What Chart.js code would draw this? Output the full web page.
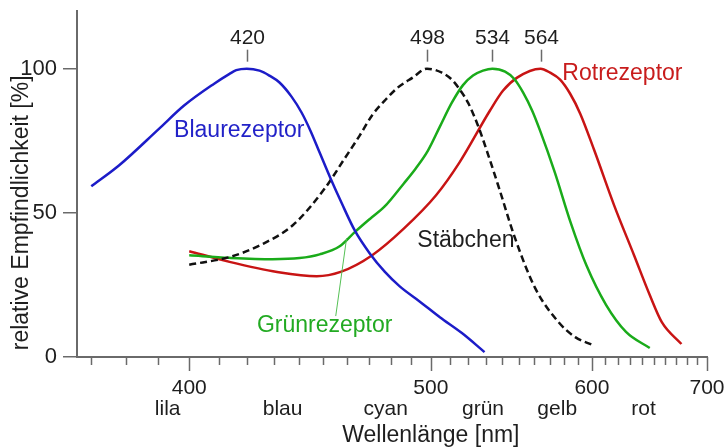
<!DOCTYPE html>
<html>
<head>
<meta charset="utf-8">
<script src="https://cdn.jsdelivr.net/npm/chart.js@4.4.1/dist/chart.umd.min.js"></script>
<style>
html,body{margin:0;padding:0;background:#fff;}
#wrap{width:728px;height:448px;position:relative;}
</style>
</head>
<body>
<div id="wrap"><canvas id="c" width="728" height="448"></canvas></div>
<script>
// ---- data (wavelength in nm, relative sensitivity in %) ----
const blueNm  = [370, 378, 390.3, 398.3, 408.3, 413.8, 416.2, 420, 424.7, 428.4, 432.3, 437, 441, 444.6, 448.4, 453, 457.8, 463.5, 470.2, 477.2, 484.4, 494.4, 504.7, 516.6, 529.4];
const blueVal = [59.2, 66.4, 79.2, 87.2, 94.7, 98.2, 99.5, 100, 99.3, 97.6, 95.2, 90.3, 84.8, 78.5, 70.9, 61.9, 53.3, 43.9, 36, 29.6, 24.5, 19.2, 13.8, 8.3, 1.7];

const greenNm  = [400, 413.7, 429.6, 440.2, 448.4, 456.9, 463.5, 470.2, 477.2, 486.4, 492.3, 498.5, 504.7, 511.1, 517.2, 522.8, 528.5, 534, 541.6, 547.1, 552.8, 558.5, 563.7, 573.5, 584.5, 595.9, 610.8, 626.5, 646.4];
const greenVal = [35.3, 34.4, 33.9, 34.3, 35.6, 38.4, 43.3, 47.8, 52.2, 60.2, 65.4, 71.6, 79.9, 88.2, 94.3, 97.6, 99.3, 100, 99, 96.5, 91.7, 85.5, 78.5, 64.1, 46.7, 31.8, 18, 8.7, 3.1];

const redNm  = [400, 413.8, 431.4, 447.2, 457.3, 471.4, 486.5, 502.6, 515.3, 532.6, 540.4, 549, 564, 570.4, 577.2, 584.2, 591.4, 601.8, 617, 633.1, 646.4, 657, 675];
const redVal = [36.7, 33, 29.5, 28, 29.5, 35.3, 44.6, 56, 67.5, 85.5, 92.4, 96.9, 100, 98.6, 96.2, 91.3, 84.4, 71.6, 52.6, 35.3, 21.5, 12.1, 4.5];

const rodNm  = [400, 414, 425, 437.5, 450.5, 459.1, 465.7, 471.6, 477.2, 483.4, 490.8, 498, 505.8, 511.1, 515.5, 520, 525.6, 532.6, 538, 547.7, 560.5, 576.1, 587.8, 600.2];
const rodVal = [32, 34.7, 38.8, 45.7, 58.4, 68.9, 76.8, 84.1, 88.9, 93.4, 96.9, 100, 98.6, 96.2, 92.7, 88.2, 80.3, 68.2, 58.5, 41.2, 23.9, 12.1, 6.9, 4.2];

const peakNm = [420, 498, 534, 564];
const peakLabels = ['420', '498', '534', '564'];

const xTickNm = [400, 500, 600, 700];
const xTickLabels = ['400', '500', '600', '700'];
const colorNames = ['lila', 'blau', 'cyan', 'grün', 'gelb', 'rot'];
const colorNameNm = [393, 433.5, 477.7, 528.5, 575.2, 641];
const yTicks = [0, 50, 100];

const xTitle = 'Wellenlänge [nm]';
const xTitleNm = 500;
const yTitle = 'relative Empfindlichkeit [%]';
const yTitleVal = 50;

const curveLabels = ['Blaurezeptor', 'Rotrezeptor', 'Stäbchen', 'Grünrezeptor'];
const curveLabelNm = [417.3, 623.6, 518.8, 450.5];
const curveLabelVal = [78.5, 98.3, 40.5, 10.7];

// ---- helpers ----
const toWn = nm => 1e7 / nm;          // axis uses wavenumber (reciprocal wavelength)
const FONT = '"Liberation Sans", Arial, Helvetica, sans-serif';
const AXIS_COLOR = '#6a6a6a';
const TEXT_COLOR = '#1e1e1e';
const BLUE = '#1c1cc8', GREEN = '#1aab1a', RED = '#c81414', BLACK = '#111111';
const LABEL_COLORS = ['#2222c8', '#c81c1c', '#1e1e1e', '#22aa22'];

const minorNm = [];
for (let n = 370; n <= 700; n += 10) minorNm.push(n);

const xLabelTicks = [];
xTickNm.forEach((n, i) => xLabelTicks.push({nm: n, label: [xTickLabels[i]]}));
colorNameNm.forEach((n, i) => xLabelTicks.push({nm: n, label: ['', colorNames[i]]}));
xLabelTicks.sort((a, b) => a.nm - b.nm);

function series(nm, val) { return nm.map((n, i) => ({x: toWn(n), y: val[i]})); }

const decor = {
  id: 'decor',
  afterDraw(chart) {
    const {ctx, scales: {x, y}, chartArea} = chart;
    ctx.save();
    // x-axis tick marks (minor every 10 nm, major every 100 nm)
    ctx.strokeStyle = AXIS_COLOR;
    ctx.lineWidth = 1.5;
    minorNm.forEach(n => {
      const px = Math.round(x.getPixelForValue(toWn(n))) + 0.5;
      const len = (n % 100 === 0) ? 14 : 8;
      ctx.beginPath();
      ctx.moveTo(px, chartArea.bottom);
      ctx.lineTo(px, chartArea.bottom + len);
      ctx.stroke();
    });
    // peak markers
    ctx.font = '21px ' + FONT;
    ctx.fillStyle = TEXT_COLOR;
    ctx.textAlign = 'center';
    ctx.textBaseline = 'middle';
    const ptop = y.getPixelForValue(100);
    peakNm.forEach((n, i) => {
      const px = Math.round(x.getPixelForValue(toWn(n))) + 0.5;
      ctx.beginPath();
      ctx.moveTo(px, ptop - 19);
      ctx.lineTo(px, ptop - 7);
      ctx.stroke();
      ctx.fillText(peakLabels[i], px, ptop - 30);
    });
    // axis titles
    ctx.font = '23px ' + FONT;
    ctx.fillText(xTitle, x.getPixelForValue(toWn(xTitleNm)), chartArea.bottom + 79);
    ctx.save();
    ctx.translate(22, y.getPixelForValue(yTitleVal));
    ctx.rotate(-Math.PI / 2);
    ctx.font = '23px ' + FONT;
    ctx.fillText(yTitle, 0, 0);
    ctx.restore();
    // leader line for Grünrezeptor
    ctx.strokeStyle = '#55c055';
    ctx.lineWidth = 1;
    ctx.beginPath();
    ctx.moveTo(x.getPixelForValue(toWn(455.2)), y.getPixelForValue(14.2));
    ctx.lineTo(x.getPixelForValue(toWn(459.9)), y.getPixelForValue(41.2));
    ctx.stroke();
    // curve labels
    ctx.font = '23px ' + FONT;
    curveLabels.forEach((t, i) => {
      ctx.fillStyle = LABEL_COLORS[i];
      ctx.fillText(t, x.getPixelForValue(toWn(curveLabelNm[i])), y.getPixelForValue(curveLabelVal[i]));
    });
    ctx.restore();
  }
};

const lineDs = (data, color, dash) => ({
  data, borderColor: color, borderWidth: 2.5, pointRadius: 0, fill: false,
  cubicInterpolationMode: 'monotone', borderDash: dash || [], borderCapStyle: 'butt'
});

new Chart(document.getElementById('c'), {
  type: 'line',
  data: {
    datasets: [
      lineDs(series(blueNm, blueVal), BLUE),
      lineDs(series(rodNm, rodVal), BLACK, [7, 4]),
      lineDs(series(greenNm, greenVal), GREEN),
      lineDs(series(redNm, redVal), RED)
    ]
  },
  options: {
    responsive: false,
    animation: false,
    devicePixelRatio: 1,
    layout: {padding: {top: 11, right: 21, bottom: 0, left: 0}},
    plugins: {legend: {display: false}, tooltip: {enabled: false}},
    scales: {
      x: {
        type: 'linear',
        reverse: true,
        min: toWn(700),
        max: toWn(366),
        afterBuildTicks: s => { s.ticks = xLabelTicks.map(t => ({value: toWn(t.nm)})); },
        afterFit: s => { s.height = 91; },
        ticks: {
          autoSkip: false, maxRotation: 0, minRotation: 0, padding: 0,
          color: TEXT_COLOR,
          font: {family: FONT, size: 21, lineHeight: 1},
          callback: (v, i) => xLabelTicks[i].label
        },
        grid: {display: false, drawTicks: true, tickLength: 20.5},
        border: {display: true, color: AXIS_COLOR, width: 2}
      },
      y: {
        type: 'linear',
        min: 0, max: 120,
        afterBuildTicks: s => { s.ticks = yTicks.map(v => ({value: v})); },
        afterFit: s => { s.width = 77; },
        ticks: {padding: 6, color: TEXT_COLOR, font: {family: FONT, size: 22, lineHeight: 0.4}},
        grid: {display: true, drawOnChartArea: false, drawTicks: true, tickLength: 14, color: AXIS_COLOR, lineWidth: 1.5},
        border: {display: true, color: AXIS_COLOR, width: 2}
      }
    }
  },
  plugins: [decor]
});
</script>
</body>
</html>
